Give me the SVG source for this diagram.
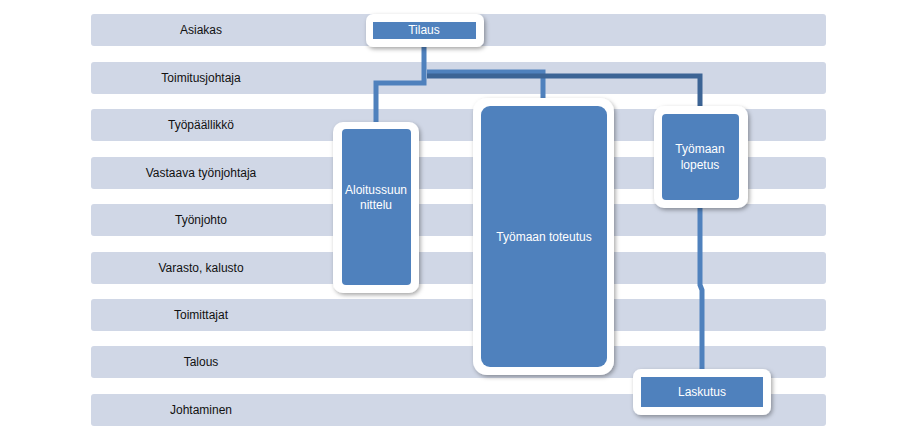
<svg xmlns="http://www.w3.org/2000/svg" width="897" height="430" viewBox="0 0 897 430">
<style>
.lane{fill:#D0D7E6;}
.lt{font-family:"Liberation Sans",Arial,sans-serif;font-size:12px;fill:#111;text-anchor:middle;dominant-baseline:central;}
.outer{fill:#fff;filter:url(#sh);}
.inner{fill:#4F81BD;}
.nt{font-family:"Liberation Sans",Arial,sans-serif;font-size:12px;fill:#fff;text-anchor:middle;dominant-baseline:central;}
.c1{fill:none;stroke:#4F81BD;stroke-width:5;}
.c2{fill:none;stroke:#3C6495;stroke-width:5;}
</style>
<defs>
<filter id="sh" x="-20%" y="-20%" width="140%" height="140%">
<feDropShadow dx="1.5" dy="2" stdDeviation="2" flood-color="#000" flood-opacity="0.35"/>
</filter>
</defs>
<rect width="897" height="430" fill="#fff"/>
<g id="lanes">
<rect class="lane" x="91" y="14" width="735" height="32" rx="3"/>
<rect class="lane" x="91" y="62" width="735" height="32" rx="3"/>
<rect class="lane" x="91" y="109" width="735" height="32" rx="3"/>
<rect class="lane" x="91" y="157" width="735" height="32" rx="3"/>
<rect class="lane" x="91" y="204" width="735" height="32" rx="3"/>
<rect class="lane" x="91" y="252" width="735" height="32" rx="3"/>
<rect class="lane" x="91" y="299" width="735" height="32" rx="3"/>
<rect class="lane" x="91" y="346" width="735" height="32" rx="3"/>
<rect class="lane" x="91" y="394" width="735" height="32" rx="3"/>
<text class="lt" x="201" y="30">Asiakas</text>
<text class="lt" x="201" y="78">Toimitusjohtaja</text>
<text class="lt" x="201" y="125">Työpäällikkö</text>
<text class="lt" x="201" y="173">Vastaava työnjohtaja</text>
<text class="lt" x="201" y="220">Työnjohto</text>
<text class="lt" x="201" y="268">Varasto, kalusto</text>
<text class="lt" x="201" y="315">Toimittajat</text>
<text class="lt" x="201" y="362">Talous</text>
<text class="lt" x="201" y="410">Johtaminen</text>
</g>
<g id="connectors">
<path class="c1" d="M424,46 V83 H376 V122"/>
<path class="c1" d="M427,72 H543 V99"/>
<path class="c2" d="M427,76 H700 V107"/>
<path class="c1" d="M700,207 V285 L702,290 V370"/>
</g>
<g id="tilaus">
<rect class="outer" x="366" y="14" width="118" height="33" rx="7"/>
<rect class="inner" x="373" y="22" width="103" height="17"/>
<text class="nt" x="424" y="30">Tilaus</text>
</g>
<g id="aloitussuunnittelu">
<rect class="outer" x="333" y="122" width="86" height="171" rx="10"/>
<rect class="inner" x="342" y="129" width="69" height="156" rx="4"/>
<text class="nt" x="376" y="190">Aloitussuun</text>
<text class="nt" x="376" y="205">nittelu</text>
</g>
<g id="toteutus">
<rect class="outer" x="473" y="98" width="141" height="277" rx="14"/>
<rect class="inner" x="481" y="106" width="126" height="261" rx="9"/>
<text class="nt" x="544" y="237">Työmaan toteutus</text>
</g>
<g id="lopetus">
<rect class="outer" x="654" y="106" width="94" height="102" rx="10"/>
<rect class="inner" x="662" y="114" width="77" height="86" rx="4"/>
<text class="nt" x="700" y="149">Työmaan</text>
<text class="nt" x="700" y="165">lopetus</text>
</g>
<g id="laskutus">
<rect class="outer" x="633" y="369" width="138" height="46" rx="8"/>
<rect class="inner" x="641" y="377" width="122" height="30"/>
<text class="nt" x="702" y="392">Laskutus</text>
</g>
</svg>
